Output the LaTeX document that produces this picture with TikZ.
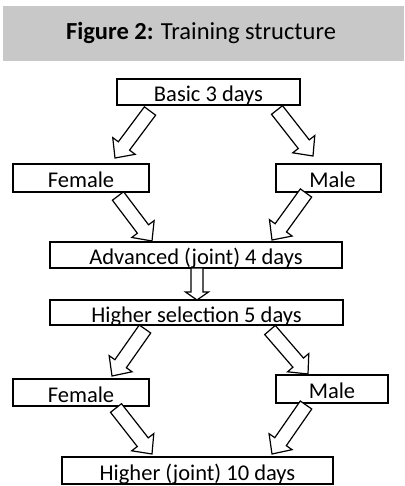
\documentclass[tikz,border=0pt]{standalone}
\usepackage{fontspec}
\setmainfont{Carlito}
\usetikzlibrary{calc}
\definecolor{bandgray}{RGB}{200,200,200}
\tikzset{
  box/.style={draw, line width=1.4pt, fill=white, inner sep=0pt,
    text height=19.5pt, text depth=0pt, font=\fontsize{22.5}{27}\selectfont},
  blockarrow/.style={draw, line width=1.2pt, fill=white, line join=miter},
}
\newcommand\blockarr[5]{%
  \coordinate (bh) at ($(#2)!#5!(#1)$);
  \path[blockarrow] ($(#1)!#3!90:(#2)$) -- ($(bh)!#3!90:(#2)$) -- ($(bh)!#4!90:(#2)$)
    -- (#2) -- ($(bh)!#4!-90:(#2)$) -- ($(bh)!#3!-90:(#2)$) -- ($(#1)!#3!-90:(#2)$) -- cycle;
}
\begin{document}
\begin{tikzpicture}[x=1pt,y=-1pt]
\useasboundingbox (0,0) rectangle (404,486);
\fill[bandgray] (3,6) rectangle (404,61);
\node[anchor=base, font=\fontsize{24.5}{29}\selectfont, inner sep=0pt] (title) at (201,40)
  {\textbf{Figure 2:} Training structure};

\node[box, minimum width=183pt, minimum height=26pt] (basic) at (208.5,92) {Basic 3 days};
\node[box, minimum width=136pt, minimum height=28pt] (fem1) at (81,178) {Female};
\node[box, minimum width=105pt, minimum height=28pt] (male1) at (328.5,178) {\hspace{8pt}Male};
\node[box, minimum width=292pt, minimum height=26pt] (adv) at (196,255) {Advanced (joint) 4 days};
\node[box, minimum width=293pt, minimum height=25pt] (hs) at (196.5,312.5) {Higher selection 5 days};
\node[box, minimum width=136pt, minimum height=27pt] (fem2) at (81,392.5) {Female};
\node[box, minimum width=112pt, minimum height=28pt] (male2) at (332,389) {Male};
\node[box, minimum width=271pt, minimum height=27pt] (joint) at (197.5,470.5) {Higher (joint) 10 days};

\coordinate (t1) at (150,111); \coordinate (p1) at (115,158);
\coordinate (t2) at (277,110); \coordinate (p2) at (313,156);
\coordinate (t3) at (118,196); \coordinate (p3) at (152,241);
\coordinate (t4) at (306,193); \coordinate (p4) at (272,240);
\coordinate (t5) at (197,268); \coordinate (p5) at (197,300);
\coordinate (t6) at (145,329); \coordinate (p6) at (112,376);
\coordinate (t7) at (270,330); \coordinate (p7) at (308,374);
\coordinate (t8) at (116,408); \coordinate (p8) at (152,454);
\coordinate (t9) at (306,405); \coordinate (p9) at (272,454);

\blockarr{t1}{p1}{7pt}{14pt}{15pt}
\blockarr{t2}{p2}{7pt}{14pt}{15pt}
\blockarr{t3}{p3}{7pt}{14pt}{15pt}
\blockarr{t4}{p4}{7pt}{14pt}{15pt}
\blockarr{t5}{p5}{6pt}{11.5pt}{8pt}
\blockarr{t6}{p6}{7pt}{14pt}{15pt}
\blockarr{t7}{p7}{7pt}{14pt}{15pt}
\blockarr{t8}{p8}{7pt}{14pt}{15pt}
\blockarr{t9}{p9}{7pt}{14pt}{15pt}
\end{tikzpicture}
\end{document}
